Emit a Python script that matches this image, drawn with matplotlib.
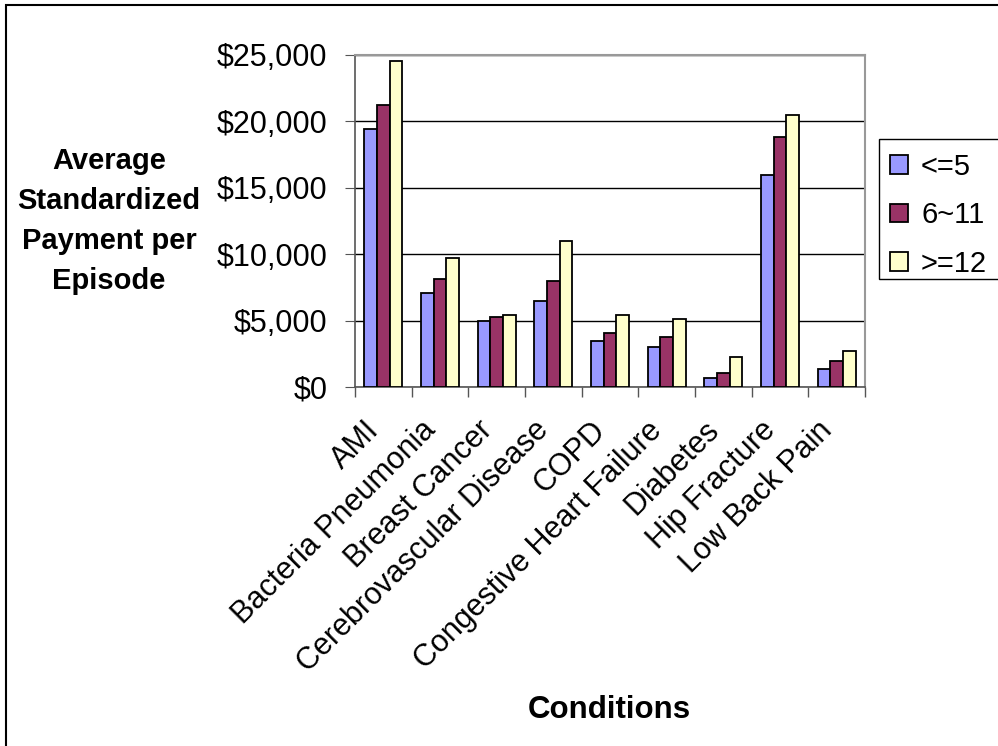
import matplotlib
matplotlib.use("Agg")
import matplotlib.pyplot as plt
import matplotlib.transforms as mtransforms
import numpy as np
from matplotlib.ticker import FuncFormatter, MultipleLocator
from matplotlib.patches import Rectangle

plt.rcParams['font.family'] = ['Liberation Sans', 'DejaVu Sans']

conditions = ["AMI", "Bacteria Pneumonia", "Breast Cancer", "Cerebrovascular Disease",
              "COPD", "Congestive Heart Failure", "Diabetes", "Hip Fracture", "Low Back Pain"]
series_names = ["<=5", "6~11", ">=12"]
low = [19400, 7050, 4950, 6450, 3450, 3000, 700, 15950, 1350]
mid = [21200, 8100, 5250, 7950, 4050, 3750, 1050, 18800, 1950]
high = [24550, 9750, 5400, 10980, 5400, 5150, 2250, 20480, 2700]
colors = ["#9999FF", "#993366", "#FFFFCC"]

W, H = 998, 746
fig = plt.figure(figsize=(W / 100, H / 100), dpi=100)
fig.patch.set_facecolor("white")
# outer chart frame
fig.add_artist(Rectangle((6 / W, -0.05), 1.2, 1 - 5 / H + 0.05, transform=fig.transFigure,
                         fill=False, edgecolor="black", linewidth=1.5, zorder=-2))

ax = fig.add_axes([355 / W, 1 - 387 / H, 510 / W, 332 / H])
x = np.arange(len(conditions))
w = 0.225
for i, (vals, c, name) in enumerate(zip([low, mid, high], colors, series_names)):
    ax.bar(x + (i - 1) * w, vals, width=w, color=c, edgecolor="black",
           linewidth=1.3, label=name, zorder=3)

ax.set_xlim(-0.5, len(conditions) - 0.5)
ax.set_ylim(0, 25000)
ax.yaxis.set_major_locator(MultipleLocator(5000))
ax.yaxis.set_major_formatter(FuncFormatter(lambda v, p: "${:,.0f}".format(v)))
ax.grid(axis="y", color="black", linewidth=1.0, zorder=0)

ax.set_xticks(x)
ax.set_xticklabels(conditions, rotation=45, ha="right", va="center",
                   rotation_mode="anchor", fontsize=22)
ax.tick_params(axis="x", which="major", length=0, pad=28)
shift = mtransforms.ScaledTranslation(-9 / 100, 0, fig.dpi_scale_trans)
for lbl in ax.get_xticklabels():
    lbl.set_transform(lbl.get_transform() + shift)
ax.set_xticks(np.arange(len(conditions) + 1) - 0.5, minor=True)
ax.tick_params(axis="x", which="minor", length=7, color="#555555", width=1)
ax.tick_params(axis="y", length=7, color="#555555", labelsize=22, pad=13)

for s in ["top", "right"]:
    ax.spines[s].set_color("#999999")
    ax.spines[s].set_linewidth(1.5)
for s in ["left", "bottom"]:
    ax.spines[s].set_color("#555555")
    ax.spines[s].set_linewidth(1.2)

fig.text(109 / W, 1 - 221 / H, "Average\nStandardized\nPayment per\nEpisode",
         ha="center", va="center", fontsize=21, fontweight="bold", linespacing=1.54)
fig.text(609 / W, 1 - 710 / H, "Conditions", ha="center", va="center",
         fontsize=22.5, fontweight="bold")

# legend frame runs past the right edge of the chart area
fig.add_artist(Rectangle((879 / W, 1 - 279 / H), 0.2, 140 / H, transform=fig.transFigure,
                         fill=True, facecolor="white", edgecolor="black", linewidth=1.0,
                         zorder=-1))
leg = ax.legend(loc="upper left", bbox_to_anchor=(884 / W, 1 - 147 / H),
                bbox_transform=fig.transFigure, fontsize=21, frameon=False,
                handlelength=0.62, handleheight=0.62, handletextpad=0.45,
                borderpad=0.2, labelspacing=0.7, borderaxespad=0)

fig.savefig("out.png", dpi=100)
